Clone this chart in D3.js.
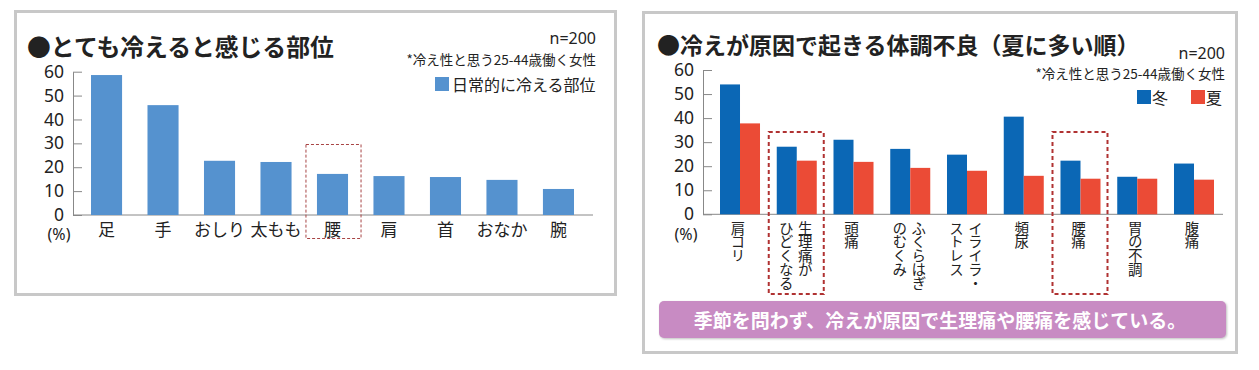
<!DOCTYPE html>
<html>
<head>
<meta charset="utf-8">
<script src="https://cdn.jsdelivr.net/npm/d3@7"></script>
<style>
  body { margin: 0; background: #fff; }
  svg text { font-family: "Noto Sans CJK JP", "Noto Sans", sans-serif; fill: #222; }
</style>
</head>
<body>
<div id="wrapper"></div>
<script>
// left chart: body parts that feel very cold
const partNames = ["足", "手", "おしり", "太もも", "腰", "肩", "首", "おなか", "腕"];
const partValues = [58.6, 46, 22.7, 22.2, 17.2, 16.3, 15.9, 14.7, 10.9];

// right chart: symptoms caused by cold (columns of vertical text)
const symptomNames = [["肩コリ"], ["生理痛が", "ひどくなる"], ["頭痛"], ["ふくらはぎ", "のむくみ"],
  ["イライラ・", "ストレス"], ["頻尿"], ["腰痛"], ["胃の不調"], ["腹痛"]];
const winterValues = [54, 28.1, 31, 27.2, 24.8, 40.6, 22.3, 15.6, 21.1];
const summerValues = [37.8, 22.3, 21.8, 19.3, 18.1, 16, 14.8, 14.8, 14.4];
const seriesNames = ["冬", "夏"];

const yTicks = [0, 10, 20, 30, 40, 50, 60];

const svg = d3.select("#wrapper").append("svg")
  .attr("width", 1259)
  .attr("height", 370);

// panel frames
svg.append("rect").attr("x", 15.5).attr("y", 11.5).attr("width", 600).attr("height", 283)
  .attr("fill", "#fff").attr("stroke", "#c8c8c8").attr("stroke-width", 3);
svg.append("rect").attr("x", 643.5).attr("y", 12.5).attr("width", 593).attr("height", 340)
  .attr("fill", "#fff").attr("stroke", "#c8c8c8").attr("stroke-width", 3);

function yAxisFor(g, scale, x) {
  const ax = g.append("g")
    .attr("transform", `translate(${x},0)`)
    .call(d3.axisLeft(scale).tickValues(yTicks).tickSizeInner(-9).tickSizeOuter(0).tickPadding(9));
  ax.selectAll("path, line").attr("stroke", "#888");
  ax.selectAll("text").attr("font-size", 17.5).style("font-family", "'Noto Sans', sans-serif").attr("fill", "#222");
  return ax;
}

// ---------- left chart ----------
const left = svg.append("g");

left.append("text").attr("x", 27).attr("y", 45).attr("dominant-baseline", "central")
  .attr("font-size", 23.8).attr("font-weight", "bold").attr("fill", "#111")
  .text("●とても冷えると感じる部位");
left.append("text").attr("x", 596).attr("y", 38).attr("text-anchor", "end").attr("dominant-baseline", "central")
  .attr("font-size", 16).style("font-family", "'Noto Sans', sans-serif").text("n=200");
left.append("text").attr("x", 596).attr("y", 59).attr("text-anchor", "end").attr("dominant-baseline", "central")
  .attr("font-size", 13.5).text("*冷え性と思う25-44歳働く女性");

const yL = d3.scaleLinear().domain([0, 60]).range([215, 71.7]);
const xL = d3.scaleBand().domain(partNames).range([91, 574]).paddingInner(0.45).paddingOuter(0);

yAxisFor(left, yL, 73);
left.append("line").attr("x1", 73).attr("x2", 593).attr("y1", yL(0)).attr("y2", yL(0))
  .attr("stroke", "#888");

left.selectAll("rect.bar").data(partValues).join("rect")
  .attr("class", "bar")
  .attr("x", (d, i) => xL(partNames[i]))
  .attr("width", xL.bandwidth())
  .attr("y", d => yL(d))
  .attr("height", d => yL(0) - yL(d))
  .attr("fill", "#5592cf");

left.selectAll("text.cat").data(partNames).join("text")
  .attr("class", "cat")
  .attr("x", d => xL(d) + xL.bandwidth() / 2)
  .attr("y", 228)
  .attr("text-anchor", "middle").attr("dominant-baseline", "central")
  .attr("font-size", 17)
  .text(d => d);
left.append("text").attr("x", 59).attr("y", 234).attr("text-anchor", "middle").attr("dominant-baseline", "central")
  .attr("font-size", 16).style("font-family", "'Noto Sans', sans-serif").text("(%)");

// highlight box around 腰
left.append("rect")
  .attr("x", xL("腰") - 11).attr("y", 144.5)
  .attr("width", xL.bandwidth() + 24).attr("height", 94)
  .attr("fill", "none").attr("stroke", "#a84444").attr("stroke-width", 1)
  .attr("stroke-dasharray", "3,2");

// legend
left.append("rect").attr("x", 435).attr("y", 77).attr("width", 14).attr("height", 14).attr("fill", "#5592cf");
left.append("text").attr("x", 452).attr("y", 84).attr("dominant-baseline", "central")
  .attr("font-size", 16).text("日常的に冷える部位");

// ---------- right chart ----------
const right = svg.append("g");

right.append("text").attr("x", 657).attr("y", 44).attr("dominant-baseline", "central")
  .attr("font-size", 23).attr("font-weight", "bold").attr("fill", "#111")
  .text("●冷えが原因で起きる体調不良（夏に多い順）");
right.append("text").attr("x", 1225).attr("y", 53).attr("text-anchor", "end").attr("dominant-baseline", "central")
  .attr("font-size", 16).style("font-family", "'Noto Sans', sans-serif").text("n=200");
right.append("text").attr("x", 1225).attr("y", 73).attr("text-anchor", "end").attr("dominant-baseline", "central")
  .attr("font-size", 13.5).text("*冷え性と思う25-44歳働く女性");

const keys = symptomNames.map(d => d.join(""));
const yR = d3.scaleLinear().domain([0, 60]).range([214.3, 70]);
const xR = d3.scaleBand().domain(keys).range([720, 1214]).paddingInner(0.295).paddingOuter(0);
const xSub = d3.scaleBand().domain(seriesNames).range([0, xR.bandwidth()]);
const colors = { "冬": "#0b67b5", "夏": "#eb4b36" };

yAxisFor(right, yR, 703);
right.append("line").attr("x1", 703).attr("x2", 1223).attr("y1", yR(0)).attr("y2", yR(0))
  .attr("stroke", "#888");

const groups = right.selectAll("g.grp").data(keys).join("g")
  .attr("class", "grp")
  .attr("transform", d => `translate(${xR(d)},0)`);

groups.selectAll("rect").data((d, i) => [
  { s: "冬", v: winterValues[i] },
  { s: "夏", v: summerValues[i] }
]).join("rect")
  .attr("x", d => xSub(d.s))
  .attr("width", xSub.bandwidth())
  .attr("y", d => yR(d.v))
  .attr("height", d => yR(0) - yR(d.v))
  .attr("fill", d => colors[d.s]);

// vertical labels, one text per column, columns right to left
symptomNames.forEach((cols, i) => {
  const cx = xR(keys[i]) + xR.bandwidth() / 2 - (cols.length === 1 ? 2 : 1);
  cols.forEach((col, j) => {
    const colX = cx + ((cols.length - 1) / 2 - j) * 19;
    right.append("text")
      .attr("x", colX).attr("y", 221)
      .style("writing-mode", "vertical-rl")
      .style("letter-spacing", "-0.8px")
      .attr("font-size", 14.5)
      .text(col);
  });
});
right.append("text").attr("x", 686).attr("y", 234).attr("text-anchor", "middle").attr("dominant-baseline", "central")
  .attr("font-size", 16).style("font-family", "'Noto Sans', sans-serif").text("(%)");

// highlight boxes
["生理痛がひどくなる", "腰痛"].forEach(k => {
  right.append("rect")
    .attr("x", xR(k) - 8).attr("y", 132)
    .attr("width", xR.bandwidth() + 15).attr("height", 162)
    .attr("fill", "none").attr("stroke", "#b03232").attr("stroke-width", 2)
    .attr("stroke-dasharray", "4,3");
});

// legend
const legX = [1137, 1191];
seriesNames.forEach((s, i) => {
  right.append("rect").attr("x", legX[i]).attr("y", 90).attr("width", 14).attr("height", 14).attr("fill", colors[s]);
  right.append("text").attr("x", legX[i] + 15).attr("y", 97).attr("dominant-baseline", "central")
    .attr("font-size", 16).text(s);
});

// callout
right.append("rect").attr("x", 659).attr("y", 301).attr("width", 567).attr("height", 37).attr("rx", 5)
  .attr("fill", "#c88bc3")
  .style("filter", "drop-shadow(1px 1px 1px rgba(0,0,0,0.25))");
right.append("text").attr("x", 940).attr("y", 319).attr("text-anchor", "middle").attr("dominant-baseline", "central")
  .attr("font-size", 19).attr("font-weight", "bold").style("fill", "#fff")
  .text("季節を問わず、冷えが原因で生理痛や腰痛を感じている。");
</script>
</body>
</html>
